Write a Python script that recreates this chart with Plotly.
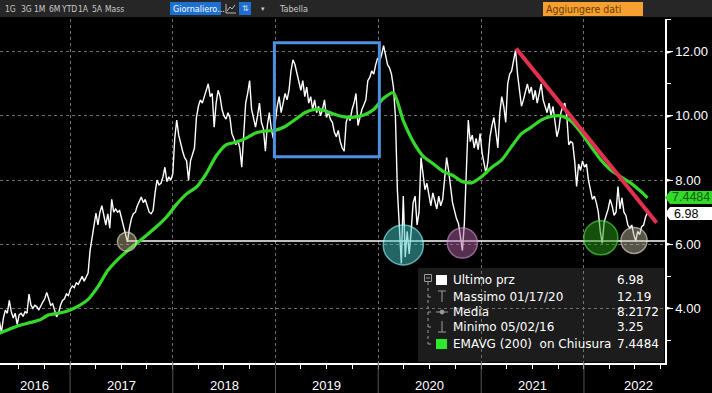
import pandas as pd
import plotly.graph_objects as go

# ---------------- data ----------------
price_start = "2016-04-25"          # weekly closes
price_values = [
    3.6, 3.25, 3.7, 3.95, 3.85, 4.25, 3.9, 3.7, 3.85, 3.5,
    3.8, 3.85, 3.75, 3.9, 3.85, 4.45, 4.1, 4.0, 4.1, 4.05,
    3.95, 4.1, 4.2, 4.3, 4.5, 4.3, 4.1, 4.15, 3.95, 3.74,
    3.85, 4.1, 4.25, 4.3, 4.45, 4.4, 4.6, 4.7, 4.65, 4.8,
    4.75, 4.9, 5.0, 4.85, 5.0, 5.1, 5.8, 6.2, 6.6, 6.97,
    6.6, 7.0, 7.2, 6.9, 6.6, 6.95, 6.5, 7.4, 7.0, 7.1,
    7.0, 7.05, 6.8, 6.6, 6.3, 6.07, 6.5, 6.8, 6.95, 7.0,
    7.2, 7.35, 7.47, 7.3, 7.4, 7.2, 7.0, 6.95, 7.05, 7.6,
    8.0, 7.85, 7.9, 8.1, 8.4, 7.95, 8.1, 8.0, 8.2, 9.3,
    9.87, 9.4, 9.1, 8.9, 8.7, 8.6, 8.0, 8.6, 8.8, 9.0,
    9.95, 10.3, 10.5, 10.4, 10.6, 10.8, 11.0, 10.6, 10.7, 9.65,
    10.4, 10.8, 10.6, 10.2, 10.0, 9.9, 10.1, 9.95, 9.45, 9.3,
    9.1, 9.25, 9.0, 8.4, 9.6, 10.4, 10.7, 11.1, 10.2, 9.9,
    9.65, 10.0, 10.4, 9.8, 9.6, 8.9, 9.7, 10.1, 9.6, 9.3,
    9.9, 10.3, 10.6, 10.1, 10.4, 10.7, 10.5, 10.8, 11.4, 11.75,
    11.6, 11.3, 11.0, 10.8, 11.1, 10.6, 10.9, 10.4, 10.6, 10.2,
    10.5, 10.1, 10.3, 10.0, 10.2, 10.5, 9.95, 10.1, 9.9, 9.8,
    9.5, 9.35, 9.55, 9.2, 9.0, 8.9, 9.8, 10.0, 9.85, 10.2,
    10.4, 10.7, 9.7, 10.0, 10.2, 10.35, 10.5, 11.1, 11.2, 11.4,
    11.3, 11.6, 11.8, 11.7, 11.9, 12.19, 11.85, 11.6, 11.5, 11.3,
    10.9, 10.0, 7.7, 6.5, 5.4, 7.5, 5.6, 6.4, 5.7, 6.4,
    7.3, 7.5, 6.6, 7.0, 8.7, 8.2, 7.7, 7.9, 7.5, 7.2,
    7.6, 7.3, 7.1, 7.5, 7.2, 7.4, 8.1, 8.7, 8.3, 7.7,
    7.3, 7.05, 6.8, 6.65, 6.2, 5.8, 6.65, 8.4, 9.87, 9.2,
    9.4, 9.0, 9.3, 8.95, 9.45, 8.85, 8.5, 8.2, 8.6, 9.35,
    9.7, 9.95, 9.5, 9.0, 10.1, 10.6, 10.3, 9.8, 11.0, 11.3,
    11.4, 11.7, 12.05, 11.3, 10.8, 10.3, 10.5, 10.8, 11.0, 10.7,
    10.9, 10.5, 10.8, 10.4, 10.7, 11.0, 10.5, 10.3, 10.1, 10.4,
    10.0, 10.3, 9.8, 9.35, 9.6, 10.1, 10.3, 10.4, 10.0, 9.1,
    9.2, 9.15, 8.6, 7.8, 8.5, 8.3, 8.6, 8.4, 8.5, 8.0,
    7.7, 7.4, 7.5, 7.3, 7.0, 6.4, 6.03, 6.7, 6.9, 7.1,
    7.4, 7.2, 6.9, 7.0, 7.8, 7.1, 7.45, 7.0, 6.9, 6.6,
    6.5, 6.6, 6.3, 6.1, 6.4, 6.3, 6.55, 6.6, 6.85, 6.98,
]
ema_values = [   # EMAVG(200), read every 5 weeks + last point
    3.23, 3.35, 3.47, 3.55, 3.63, 3.8, 3.85, 3.93, 4.07, 4.28,
    4.68, 5.18, 5.52, 5.8, 6.05, 6.3, 6.56, 6.86, 7.25, 7.57,
    7.78, 8.2, 8.75, 9.1, 9.18, 9.3, 9.47, 9.53, 9.55, 9.67,
    9.88, 10.1, 10.2, 10.17, 10.05, 9.97, 9.96, 10.03, 10.2, 10.55,
    10.72, 9.85, 9.2, 8.75, 8.52, 8.28, 8.15, 7.95, 7.92, 8.12,
    8.4, 8.63, 9.05, 9.45, 9.65, 9.87, 9.98, 10.0, 9.85, 9.5,
    9.07, 8.65, 8.33, 8.12, 7.93, 7.68,
    7.4484,
]
circle_dates = ["2017-07-22", "2020-03-30", "2020-10-26", "2022-03-02", "2022-06-28"]
circle_values = [6.08, 5.98, 6.04, 6.2, 6.12]
box_dates = ["2018-12-28", "2020-01-05"]
box_values = [8.73, 12.28]
trend_dates = ["2021-05-05", "2022-09-16"]
trend_values = [12.1, 6.67]
support_start = "2017-07-22"
support_value = 6.1
x_range = ["2016-04-27", "2022-10-16"]
y_ticks = [4, 6, 8, 10, 12]
year_labels = ["2016", "2017", "2018", "2019", "2020", "2021", "2022"]
year_label_dates = ["2016-08-29", "2017-07-02", "2018-07-02", "2019-07-02",
                    "2020-07-02", "2021-07-02", "2022-07-13"]
year_bounds = ["2017-01-01", "2018-01-01", "2019-01-01", "2020-01-01",
               "2021-01-01", "2022-01-01"]
legend_labels = ["Ultimo prz", "Massimo 01/17/20", "Media", "Minimo 05/02/16",
                 "EMAVG (200)  on Chiusura"]
legend_values = ["6.98", "12.19", "8.2172", "3.25", "7.4484"]
last_price = "6.98"
last_ema = "7.4484"
toolbar_items = ["1G", "3G", "1M", "6M", "YTD", "1A", "5A", "Mass"]

# ---------------- figure ----------------
W, H = 712, 393
PL, PR, PT, PB = 0, 665, 19, 363


def px(x):
    return (x - PL) / (PR - PL)


def py(y):
    return (PB - y) / (PB - PT)


dates = pd.date_range(price_start, periods=len(price_values), freq="7D")
ema_dates = list(pd.date_range(price_start, periods=len(ema_values) - 1, freq="35D")) + [dates[-1]]

fig = go.Figure()

fig.add_trace(go.Scatter(x=[support_start, x_range[1]], y=[support_value, support_value],
                         mode="lines", line=dict(color="white", width=1.6),
                         hoverinfo="skip", showlegend=False))
fig.add_trace(go.Scatter(x=dates, y=price_values, mode="lines",
                         line=dict(color="white", width=1.4), showlegend=False))
fig.add_trace(go.Scatter(x=ema_dates, y=ema_values, mode="lines",
                         line=dict(color="#35d92a", width=3.2, shape="spline", smoothing=0.6),
                         showlegend=False))
fig.add_trace(go.Scatter(x=trend_dates, y=trend_values, mode="lines",
                         line=dict(color="#e3304f", width=4), showlegend=False))
circle_sizes = [19, 40, 30, 34, 26]
circle_fill = ["rgba(190,180,140,0.65)", "rgba(70,200,200,0.72)", "rgba(175,95,165,0.7)",
               "rgba(40,160,25,0.72)", "rgba(190,185,160,0.65)"]
circle_edge = ["#e6dfc0", "#8ff", "#d090d0", "#4de23a", "#e0dccb"]
fig.add_trace(go.Scatter(x=circle_dates, y=circle_values, mode="markers",
                         marker=dict(size=circle_sizes, color=circle_fill,
                                     line=dict(color=circle_edge, width=1.5)),
                         showlegend=False))

shapes = []
shapes.append(dict(type="rect", xref="x", yref="y", x0=box_dates[0], x1=box_dates[1],
                   y0=box_values[0], y1=box_values[1],
                   line=dict(color="#4f8fe0", width=3), fillcolor="rgba(0,0,0,0)"))
shapes.append(dict(type="rect", xref="paper", yref="paper", x0=px(418), x1=px(664),
                   y0=py(362), y1=py(268), line=dict(width=0), fillcolor="#1c1c1c",
                   layer="below"))
for d in year_bounds:
    shapes.append(dict(type="line", xref="x", yref="paper", x0=d, x1=d, y0=0, y1=py(393),
                       line=dict(color="#555", width=1)))
# toolbar
shapes.append(dict(type="rect", xref="paper", yref="paper", x0=px(0), x1=px(712),
                   y0=py(17), y1=py(0), line=dict(width=0), fillcolor="#262626"))
shapes.append(dict(type="rect", xref="paper", yref="paper", x0=px(170), x1=px(221),
                   y0=py(15), y1=py(2), line=dict(width=0), fillcolor="#1d6fd0"))
shapes.append(dict(type="rect", xref="paper", yref="paper", x0=px(239), x1=px(251),
                   y0=py(15), y1=py(2), line=dict(width=0), fillcolor="#1d6fd0"))
shapes.append(dict(type="path", xref="paper", yref="paper",
                   path="M %f %f L %f %f L %f %f M %f %f L %f %f L %f %f L %f %f" % (
                       px(226), py(4), px(226), py(13), px(236), py(13),
                       px(227), py(11), px(230), py(7), px(232), py(9), px(235), py(5)),
                   line=dict(color="#bbb", width=1)))
shapes.append(dict(type="rect", xref="paper", yref="paper", x0=px(543), x1=px(643),
                   y0=py(16), y1=py(2), line=dict(width=0), fillcolor="#f5a030"))
for (yc, fill) in [(197.5, "#35d92a"), (213.5, "white")]:
    shapes.append(dict(type="path", xref="paper", yref="paper",
                       path="M %f %f L %f %f L %f %f L %f %f L %f %f Z" % (
                           px(665), py(yc), px(670), py(yc - 6.5), px(712), py(yc - 6.5),
                           px(712), py(yc + 6.5), px(670), py(yc + 6.5)),
                       line=dict(width=0), fillcolor=fill))
shapes.append(dict(type="rect", xref="paper", yref="paper", x0=px(436), x1=px(447),
                   y0=py(285), y1=py(275), line=dict(width=0), fillcolor="white"))
shapes.append(dict(type="rect", xref="paper", yref="paper", x0=px(436), x1=px(447),
                   y0=py(349), y1=py(339), line=dict(width=0), fillcolor="#2ee82e"))
grey = "#9a9a9a"
shapes.append(dict(type="rect", xref="paper", yref="paper", x0=px(424.5), x1=px(431.5),
                   y0=py(281.5), y1=py(274.5), line=dict(color=grey, width=1)))
shapes.append(dict(type="line", xref="paper", yref="paper", x0=px(426), x1=px(430),
                   y0=py(278), y1=py(278), line=dict(color=grey, width=1)))
shapes.append(dict(type="line", xref="paper", yref="paper", x0=px(428), x1=px(428),
                   y0=py(282), y1=py(344), line=dict(color=grey, width=1, dash="dot")))
for yy in [297, 312, 327, 344]:
    shapes.append(dict(type="line", xref="paper", yref="paper", x0=px(428), x1=px(434),
                       y0=py(yy), y1=py(yy), line=dict(color=grey, width=1, dash="dot")))
shapes.append(dict(type="line", xref="paper", yref="paper", x0=px(438), x1=px(446),
                   y0=py(291), y1=py(291), line=dict(color=grey, width=1)))
shapes.append(dict(type="line", xref="paper", yref="paper", x0=px(442), x1=px(442),
                   y0=py(291), y1=py(302), line=dict(color=grey, width=1)))
shapes.append(dict(type="line", xref="paper", yref="paper", x0=px(436), x1=px(448),
                   y0=py(312), y1=py(312), line=dict(color=grey, width=1)))
shapes.append(dict(type="circle", xref="paper", yref="paper", x0=px(440), x1=px(444),
                   y0=py(314), y1=py(310), line=dict(color=grey, width=1), fillcolor=grey))
shapes.append(dict(type="line", xref="paper", yref="paper", x0=px(442), x1=px(442),
                   y0=py(321), y1=py(332), line=dict(color=grey, width=1)))
shapes.append(dict(type="line", xref="paper", yref="paper", x0=px(438), x1=px(446),
                   y0=py(332), y1=py(332), line=dict(color=grey, width=1)))

ann = []
NARROW = "Liberation Sans, Arial, sans-serif"
TB = "Liberation Sans Narrow, DejaVu Sans Condensed, Arial Narrow, sans-serif"
tb_x = [11, 26.5, 39.5, 54, 68.5, 83, 97, 114]
for t, xx in zip(toolbar_items, tb_x):
    ann.append(dict(text=t, x=px(xx), y=py(8.5), xref="paper", yref="paper", showarrow=False,
                    xanchor="center", yanchor="middle",
                    font=dict(family=TB, size=8.5, color="#c8c8c8")))
ann.append(dict(text="Giornaliero...", x=px(171), y=py(8.5), xref="paper", yref="paper",
                showarrow=False, xanchor="left", yanchor="middle",
                font=dict(family=TB, size=9, color="white")))
ann.append(dict(text="⇅", x=px(245), y=py(8.5), xref="paper", yref="paper", showarrow=False,
                xanchor="center", yanchor="middle", font=dict(family="DejaVu Sans", size=8, color="#dde")))
ann.append(dict(text="▾", x=px(263), y=py(8.5), xref="paper", yref="paper", showarrow=False,
                xanchor="center", yanchor="middle", font=dict(family="DejaVu Sans", size=7, color="#c8c8c8")))
ann.append(dict(text="Tabella", x=px(277), y=py(8.5), xref="paper", yref="paper", showarrow=False,
                xanchor="left", yanchor="middle", font=dict(family=TB, size=9, color="#c8c8c8")))
ann.append(dict(text="Aggiungere dati", x=px(544), y=py(9), xref="paper", yref="paper",
                showarrow=False, xanchor="left", yanchor="middle",
                font=dict(family=TB, size=10.5, color="#6a3c00")))
for t, d in zip(year_labels, year_label_dates):
    ann.append(dict(text=t, x=d, y=py(385), xref="x", yref="paper", showarrow=False,
                    xanchor="center", yanchor="middle",
                    font=dict(family=NARROW, size=13, color="white")))
for v in y_ticks:
    ann.append(dict(text="►", x=px(669), y=v, xref="paper", yref="y", showarrow=False,
                    xanchor="center", yanchor="middle",
                    font=dict(family="DejaVu Sans", size=7, color="white")))
ann.append(dict(text=last_ema, x=px(670), y=py(197.5), xref="paper", yref="paper", showarrow=False,
                xanchor="left", yanchor="middle", font=dict(family=NARROW, size=12.5, color="#0b5e0b")))
ann.append(dict(text=last_price, x=px(672), y=py(213.5), xref="paper", yref="paper", showarrow=False,
                xanchor="left", yanchor="middle", font=dict(family=NARROW, size=12.5, color="black")))
rows_y = [280, 297, 312, 327, 344]
for lab, val, yy in zip(legend_labels, legend_values, rows_y):
    ann.append(dict(text=lab, x=px(451), y=py(yy), xref="paper", yref="paper", showarrow=False,
                    xanchor="left", yanchor="middle",
                    font=dict(family="DejaVu Sans", size=12, color="white")))
    ann.append(dict(text=val, x=px(615), y=py(yy), xref="paper", yref="paper", showarrow=False,
                    xanchor="left", yanchor="middle",
                    font=dict(family="DejaVu Sans", size=12, color="white")))

fig.update_layout(
    template="none",
    width=W, height=H,
    margin=dict(l=PL, r=W - PR, t=PT, b=H - PB, pad=0, autoexpand=False),
    paper_bgcolor="black", plot_bgcolor="black",
    showlegend=False, hovermode=False,
    shapes=shapes, annotations=ann,
    xaxis=dict(type="date", range=x_range, tickvals=year_bounds, showticklabels=False,
               automargin=False,
               ticks="", showgrid=True, gridcolor="#707070", griddash="dot", gridwidth=1,
               showline=True, linecolor="white", linewidth=1.5, zeroline=False,
               minor=dict(dtick="M3", tick0="2016-01-01", ticks="outside", ticklen=4,
                          tickcolor="white", showgrid=False)),
    yaxis=dict(side="right", range=[2.30, 13.02], tickvals=y_ticks, automargin=False,
               ticktext=["%.2f" % v for v in y_ticks], ticks="outside", ticklen=6,
               tickcolor="white", showgrid=True, gridcolor="#707070", griddash="dot",
               gridwidth=1, showline=True, linecolor="white", linewidth=1.5, zeroline=False,
               tickfont=dict(family=NARROW, size=13, color="white"),
               minor=dict(dtick=1, tick0=0, ticks="outside", ticklen=4, tickcolor="white",
                          showgrid=False)),
)

fig.write_html(
    "out.html",
    config={"displayModeBar": False},
    post_script="document.body.style.margin='0';document.body.style.background='black';"
                "document.body.style.overflow='hidden';",
)
